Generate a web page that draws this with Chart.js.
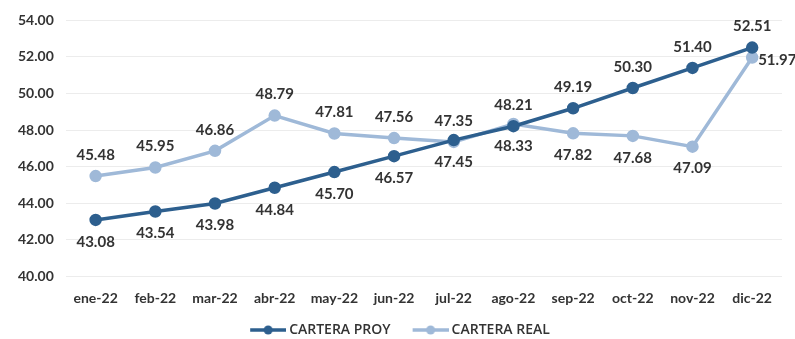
<!DOCTYPE html>
<html>
<head>
<meta charset="utf-8">
<script src="https://cdn.jsdelivr.net/npm/chart.js@4"></script>
<style>
  html, body { margin: 0; padding: 0; background: #fff; }
  #wrap { width: 795px; height: 339px; }
</style>
</head>
<body>
<div id="wrap"><canvas id="myChart"></canvas></div>
<script>
const meses = ['ene-22','feb-22','mar-22','abr-22','may-22','jun-22','jul-22','ago-22','sep-22','oct-22','nov-22','dic-22'];
const carteraProy = [43.08,43.54,43.98,44.84,45.70,46.57,47.45,48.21,49.19,50.30,51.40,52.51];
const carteraReal = [45.48,45.95,46.86,48.79,47.81,47.56,47.35,48.33,47.82,47.68,47.09,51.97];

// donde va cada etiqueta: a = arriba, b = abajo, d = derecha
const posProy = ['b','b','b','b','b','b','b','a','a','a','a','a'];
const posReal = ['a','a','a','a','a','a','a','b','b','b','b','d'];

const azulOscuro = '#2d5f8e';
const azulClaro = '#9fb9d8';

// icono de leyenda: linea con punto, con un margen vacio a la izquierda
function iconoLeyenda(color){
  const c = document.createElement('canvas');
  c.width = 52; c.height = 12;
  const ctx = c.getContext('2d');
  ctx.strokeStyle = color; ctx.lineWidth = 3.5;
  ctx.beginPath(); ctx.moveTo(16,6); ctx.lineTo(52,6); ctx.stroke();
  ctx.fillStyle = color;
  ctx.beginPath(); ctx.arc(34,6,4.5,0,Math.PI*2); ctx.fill();
  return c;
}

const etiquetas = {
  id: 'etiquetas',
  afterDatasetsDraw(chart){
    const ctx = chart.ctx;
    const posiciones = [posProy, posReal];
    ctx.save();
    ctx.font = 'bold 15px Lato, "Open Sans", sans-serif';
    ctx.fillStyle = '#333';
    chart.data.datasets.forEach((ds, i) => {
      const meta = chart.getDatasetMeta(i);
      meta.data.forEach((pt, j) => {
        const p = posiciones[i][j];
        const txt = ds.data[j].toFixed(2);
        if (p === 'd') {
          ctx.textAlign = 'left'; ctx.textBaseline = 'middle';
          ctx.fillText(txt, pt.x + 6, pt.y + 3);
        } else {
          ctx.textAlign = 'center'; ctx.textBaseline = 'middle';
          ctx.fillText(txt, pt.x, p === 'a' ? pt.y - 21 : pt.y + 22);
        }
      });
    });
    ctx.restore();
  }
};

const data = {
  labels: meses,
  datasets: [{
    label: 'CARTERA PROY',
    data: carteraProy,
    borderColor: azulOscuro,
    backgroundColor: azulOscuro,
    borderWidth: 3.5,
    pointRadius: 4.5,
    pointHoverRadius: 4.5,
    tension: 0
  },{
    label: 'CARTERA REAL',
    data: carteraReal,
    borderColor: azulClaro,
    backgroundColor: azulClaro,
    borderWidth: 3.5,
    pointRadius: 4.5,
    pointHoverRadius: 4.5,
    tension: 0
  }]
};

const config = {
  type: 'line',
  data: data,
  plugins: [etiquetas],
  options: {
    responsive: true,
    maintainAspectRatio: false,
    animation: false,
    layout: { padding: { left: 6, right: 13, top: 8, bottom: 0 } },
    scales: {
      x: {
        offset: true,
        grid: { display: false },
        border: { display: false },
        ticks: { color: '#333', font: { family: 'Lato, "Open Sans", sans-serif', size: 14, weight: 'bold' }, padding: 6 }
      },
      y: {
        min: 40, max: 54,
        grid: { color: '#ececec', lineWidth: 1, drawTicks: false },
        border: { display: false },
        ticks: {
          stepSize: 2,
          padding: 12,
          color: '#333',
          font: { family: 'Lato, "Open Sans", sans-serif', size: 14, weight: 'bold' },
          callback: v => v.toFixed(2)
        }
      }
    },
    plugins: {
      legend: {
        position: 'bottom',
        maxHeight: 26,
        labels: {
          usePointStyle: true,
          pointStyleWidth: 44,
          color: '#333',
          font: { family: '"Open Sans", sans-serif', size: 14, weight: '600' },
          padding: 10,
          generateLabels(chart){
            return chart.data.datasets.map((ds, i) => ({
              text: ds.label,
              pointStyle: iconoLeyenda(ds.borderColor),
              fillStyle: ds.borderColor,
              strokeStyle: ds.borderColor,
              lineWidth: 0,
              hidden: false,
              datasetIndex: i,
              fontColor: '#333'
            }));
          }
        }
      },
      tooltip: { enabled: false }
    }
  }
};

const myChart = new Chart(document.getElementById('myChart'), config);
</script>
</body>
</html>
